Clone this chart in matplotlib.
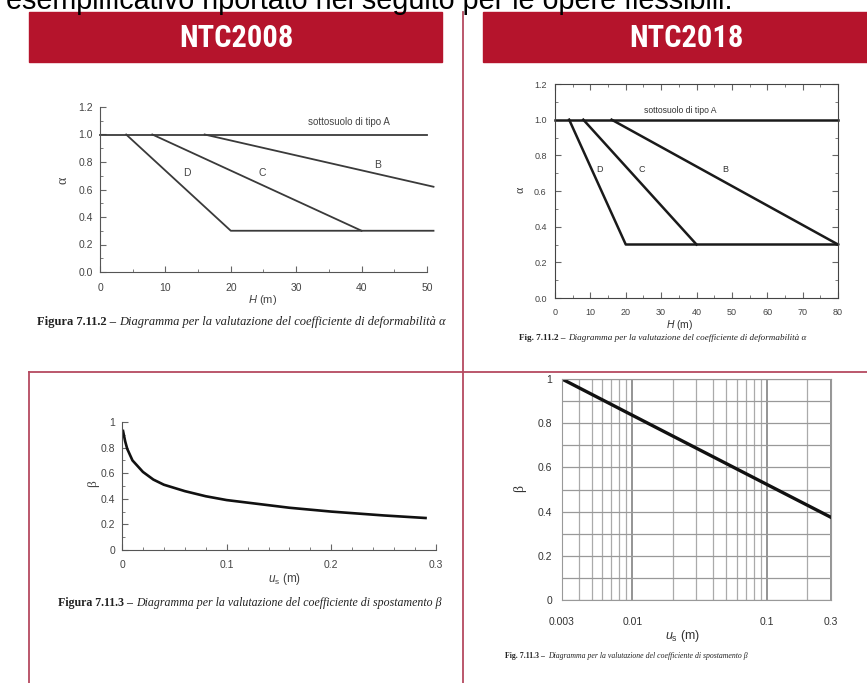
import matplotlib
matplotlib.use("Agg")
import matplotlib.pyplot as plt
from matplotlib import font_manager
from matplotlib.patches import Rectangle
from matplotlib.lines import Line2D
from matplotlib.text import Annotation
from matplotlib.ticker import MultipleLocator, FormatStrFormatter

# ---- data ----
# NTC2008, alpha vs H (m)
h08_A = [0, 50]
a08_A = [1.0, 1.0]
h08_B = [16, 51]
a08_B = [1.0, 0.62]
h08_C = [8, 40]
a08_C = [1.0, 0.3]
h08_D = [4, 20, 51]
a08_D = [1.0, 0.3, 0.3]

# NTC2018, alpha vs H (m)
h18_A = [0, 80]
a18_A = [1.0, 1.0]
h18_B = [16, 80]
a18_B = [1.0, 0.3]
h18_C = [8, 40]
a18_C = [1.0, 0.3]
h18_D = [4, 20, 80]
a18_D = [1.0, 0.3, 0.3]

# NTC2008, beta vs us (m)
us08 = [0.001, 0.003, 0.005, 0.01, 0.02, 0.03, 0.04, 0.06, 0.08, 0.1,
        0.13, 0.16, 0.2, 0.25, 0.29]
beta08 = [0.93, 0.85, 0.79, 0.70, 0.61, 0.55, 0.51, 0.46, 0.42, 0.39,
          0.36, 0.33, 0.30, 0.27, 0.25]

# NTC2018, beta vs us (m), straight line on log axis
us18 = [0.003, 0.01, 0.1, 0.3]
beta18 = [1.0, 0.836, 0.523, 0.374]
us18_ticks = [0.003, 0.01, 0.1, 0.3]
us18_labels = ["0.003", "0.01", "0.1", "0.3"]
us18_minor = [0.004, 0.005, 0.006, 0.007, 0.008, 0.009,
              0.02, 0.03, 0.04, 0.05, 0.06, 0.07, 0.08, 0.09, 0.2]

top_text = "esemplificativo riportato nel seguito per le opere flessibili."
banners = ["NTC2008", "NTC2018"]
cap_a08 = ("Figura 7.11.2 \u2013", "Diagramma per la valutazione del coefficiente di deformabilità α")
cap_a18 = ("Fig. 7.11.2 \u2013", "Diagramma per la valutazione del coefficiente di deformabilità α")
cap_b08 = ("Figura 7.11.3 \u2013", "Diagramma per la valutazione del coefficiente di spostamento β")
cap_b18 = ("Fig. 7.11.3 \u2013", "Diagramma per la valutazione del coefficiente di spostamento β")

plt.rcParams["font.family"] = ["Liberation Sans", "DejaVu Sans"]
plt.rcParams["mathtext.fontset"] = "custom"
plt.rcParams["mathtext.rm"] = "Liberation Sans"
plt.rcParams["mathtext.it"] = "Liberation Sans:italic"

W, H = 867, 683
RED = "#b5142c"
RULE = "#b54a60"

# narrow bold face for the banners if one is installed
installed = {f.name for f in font_manager.fontManager.ttflist}
banner_font, banner_size = "Liberation Sans", 19
for name in ["Roboto Condensed", "Liberation Sans Narrow", "Open Sans Condensed"]:
    if name in installed:
        banner_font, banner_size = name, 22
        break


def fx(x):
    return x / W


def fy(y):
    return 1 - y / H


def box(l, t, r, b):
    return [l / W, 1 - b / H, (r - l) / W, (b - t) / H]


def caption(x, y, parts, size):
    t1 = fig.text(fx(x), fy(y), parts[0], fontsize=size, family="Liberation Serif",
                  weight="bold", va="center", color="#222")
    ann = Annotation(parts[1], xy=(1, 0), xycoords=t1, xytext=(2, 0),
                     textcoords="offset points", va="bottom", fontsize=size,
                     family="Liberation Serif", style="italic", color="#222")
    fig.add_artist(ann)


fig = plt.figure(figsize=(W / 100, H / 100), dpi=100)

# page decorations
fig.text(fx(6), fy(9), top_text, fontsize=20.7, color="black", va="baseline")
fig.add_artist(Rectangle((fx(29), fy(62)), (442 - 29) / W, 50 / H, color=RED,
                         transform=fig.transFigure))
fig.add_artist(Rectangle((fx(483), fy(62)), (867 - 483) / W, 50 / H, color=RED,
                         transform=fig.transFigure))
for txt, xc in zip(banners, [236, 686]):
    fig.text(fx(xc), fy(38), txt, fontsize=banner_size, color="white", weight="bold",
             family=banner_font, ha="center", va="center")
fig.add_artist(Line2D([fx(463), fx(463)], [fy(12), 0], color=RULE, lw=1.3,
                      transform=fig.transFigure))
fig.add_artist(Line2D([fx(29), 1], [fy(372), fy(372)], color=RULE, lw=1.3,
                      transform=fig.transFigure))
fig.add_artist(Line2D([fx(29), fx(29)], [fy(372), 0], color=RULE, lw=1.3,
                      transform=fig.transFigure))

# ---- NTC2008 alpha ----
ax1 = fig.add_axes(box(100, 107, 433.5, 272))
for hx, ay in [(h08_A, a08_A), (h08_B, a08_B), (h08_C, a08_C), (h08_D, a08_D)]:
    ax1.plot(hx, ay, color="#3a3a3a", lw=1.3, clip_on=False)
ax1.set_xlim(0, 51)
ax1.set_ylim(0, 1.2)
ax1.spines[["top", "right"]].set_visible(False)
ax1.spines["bottom"].set_bounds(0, 50)
for s in ["left", "bottom"]:
    ax1.spines[s].set_color("#555")
ax1.xaxis.set_major_locator(MultipleLocator(10))
ax1.xaxis.set_minor_locator(MultipleLocator(5))
ax1.yaxis.set_major_locator(MultipleLocator(0.2))
ax1.yaxis.set_minor_locator(MultipleLocator(0.1))
ax1.yaxis.set_major_formatter(FormatStrFormatter("%.1f"))
ax1.tick_params(which="both", direction="in", color="#666", labelsize=7.5,
                labelcolor="#444")
ax1.tick_params(axis="x", pad=8)
ax1.tick_params(axis="y", pad=5)
ax1.tick_params(which="major", length=4)
ax1.tick_params(which="minor", length=2)
ax1.text(38, 1.09, "sottosuolo di tipo A", fontsize=7, color="#444", ha="center", va="center")
ax1.text(42.4, 0.78, "B", fontsize=7.5, color="#444", ha="center", va="center")
ax1.text(24.8, 0.72, "C", fontsize=7.5, color="#444", ha="center", va="center")
ax1.text(13.3, 0.72, "D", fontsize=7.5, color="#444", ha="center", va="center")
fig.text(fx(263), fy(300), "$H$ (m)", fontsize=8, color="#444", ha="center", va="center")
fig.text(fx(63), fy(180), "α", fontsize=10, family="Liberation Serif", color="#444",
         rotation=90, ha="center", va="center")
caption(37, 322, cap_a08, 9.0)

# ---- NTC2018 alpha ----
ax2 = fig.add_axes(box(555, 84, 838, 298))
for hx, ay in [(h18_A, a18_A), (h18_B, a18_B), (h18_C, a18_C), (h18_D, a18_D)]:
    ax2.plot(hx, ay, color="#1a1a1a", lw=1.8, clip_on=False)
ax2.set_xlim(0, 80)
ax2.set_ylim(0, 1.2)
for s in ax2.spines.values():
    s.set_color("#444")
ax2.xaxis.set_major_locator(MultipleLocator(10))
ax2.xaxis.set_minor_locator(MultipleLocator(5))
ax2.yaxis.set_major_locator(MultipleLocator(0.2))
ax2.yaxis.set_minor_locator(MultipleLocator(0.1))
ax2.yaxis.set_major_formatter(FormatStrFormatter("%.1f"))
ax2.tick_params(which="both", direction="in", top=True, right=True, color="#666",
                labelsize=6.5, labelcolor="#444")
ax2.tick_params(axis="x", pad=7)
ax2.tick_params(axis="y", pad=6)
ax2.tick_params(which="major", length=4)
ax2.tick_params(which="minor", length=2)
ax2.text(35.3, 1.05, "sottosuolo di tipo A", fontsize=6.2, color="#333", ha="center", va="center")
ax2.text(48, 0.72, "B", fontsize=6.5, color="#333", ha="center", va="center")
ax2.text(24.6, 0.72, "C", fontsize=6.5, color="#333", ha="center", va="center")
ax2.text(12.7, 0.72, "D", fontsize=6.5, color="#333", ha="center", va="center")
fig.text(fx(680), fy(325), "$H$ (m)", fontsize=7.5, color="#333", ha="center", va="center")
fig.text(fx(520), fy(190), "α", fontsize=8.5, family="Liberation Serif", color="#333",
         rotation=90, ha="center", va="center")
caption(519, 338, cap_a18, 6.6)

# ---- NTC2008 beta ----
ax3 = fig.add_axes(box(122, 422, 436, 550))
ax3.plot(us08, beta08, color="#111", lw=1.9)
ax3.set_xlim(0, 0.3)
ax3.set_ylim(0, 1)
ax3.spines[["top", "right"]].set_visible(False)
for s in ["left", "bottom"]:
    ax3.spines[s].set_color("#555")
ax3.xaxis.set_major_locator(MultipleLocator(0.1))
ax3.xaxis.set_minor_locator(MultipleLocator(0.02))
ax3.yaxis.set_major_locator(MultipleLocator(0.2))
ax3.yaxis.set_minor_locator(MultipleLocator(0.1))
ax3.xaxis.set_major_formatter(FormatStrFormatter("%g"))
ax3.yaxis.set_major_formatter(FormatStrFormatter("%g"))
ax3.tick_params(which="both", direction="in", color="#666", labelsize=7.5,
                labelcolor="#444")
ax3.tick_params(axis="x", pad=7)
ax3.tick_params(axis="y", pad=5)
ax3.tick_params(which="major", length=4)
ax3.tick_params(which="minor", length=2)
fig.text(fx(285), fy(579), "$u_\\mathrm{s}$ (m)", fontsize=8.5, color="#444", ha="center", va="center")
fig.text(fx(93), fy(484), "β", fontsize=9.5, family="Liberation Serif", color="#444",
         rotation=90, ha="center", va="center")
caption(58, 603, cap_b08, 8.6)

# ---- NTC2018 beta ----
ax4 = fig.add_axes(box(562, 379, 831, 600))
ax4.plot(us18, beta18, color="#111", lw=2.4)
ax4.set_xscale("log")
ax4.set_xlim(0.003, 0.3)
ax4.set_ylim(0, 1)
ax4.set_xticks(us18_ticks, labels=us18_labels)
ax4.set_xticks(us18_minor, minor=True)
ax4.xaxis.set_minor_formatter(plt.NullFormatter())
ax4.yaxis.set_major_locator(MultipleLocator(0.2))
ax4.yaxis.set_minor_locator(MultipleLocator(0.1))
ax4.yaxis.set_major_formatter(FormatStrFormatter("%g"))
ax4.grid(which="major", axis="x", color="#777", lw=1.1)
ax4.grid(which="minor", axis="x", color="#aaa", lw=0.9)
ax4.grid(which="both", axis="y", color="#999", lw=0.9)
for s in ax4.spines.values():
    s.set_color("#999")
ax4.tick_params(which="both", length=0, labelsize=7.5, labelcolor="#333")
ax4.tick_params(axis="x", pad=12)
ax4.tick_params(axis="y", pad=7)
fig.text(fx(683), fy(636), "$u_\\mathrm{s}$ (m)", fontsize=9, color="#333", ha="center", va="center")
fig.text(fx(520), fy(488), "β", fontsize=10, family="Liberation Serif", color="#333",
         rotation=90, ha="center", va="center")
caption(505, 656, cap_b18, 5.6)

fig.savefig("out.png", dpi=100)
